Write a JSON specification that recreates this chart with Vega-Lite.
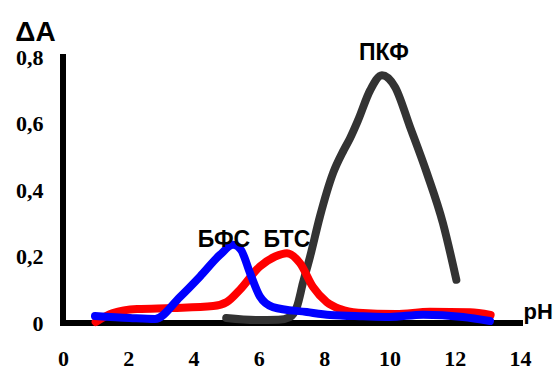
{
  "$schema": "https://vega.github.io/schema/vega-lite/v6.json",
  "width": 457,
  "height": 266,
  "autosize": {"type": "none"},
  "padding": {"left": 63, "top": 57, "right": 39, "bottom": 46},
  "background": "white",
  "config": {
    "view": {"stroke": null},
    "axis": {
      "grid": false,
      "domain": false, "ticks": false,
      "labelFont": "Liberation Serif", "labelFontWeight": "bold", "labelFontSize": 22, "labelColor": "black",
      "labelFlush": false, "titleColor": "black", "titleFont": "Liberation Sans", "titleFontWeight": "bold"
    }
  },
  "datasets": {
    "curves": [
      {"series": "ПКФ", "pH": 5.0, "dA": 0.015},
      {"series": "ПКФ", "pH": 5.9, "dA": 0.009},
      {"series": "ПКФ", "pH": 6.6, "dA": 0.01},
      {"series": "ПКФ", "pH": 6.95, "dA": 0.018},
      {"series": "ПКФ", "pH": 7.17, "dA": 0.05},
      {"series": "ПКФ", "pH": 7.35, "dA": 0.12},
      {"series": "ПКФ", "pH": 7.57, "dA": 0.2},
      {"series": "ПКФ", "pH": 7.87, "dA": 0.32},
      {"series": "ПКФ", "pH": 8.27, "dA": 0.45},
      {"series": "ПКФ", "pH": 8.6, "dA": 0.52},
      {"series": "ПКФ", "pH": 8.79, "dA": 0.555},
      {"series": "ПКФ", "pH": 9.04, "dA": 0.61},
      {"series": "ПКФ", "pH": 9.41, "dA": 0.7},
      {"series": "ПКФ", "pH": 9.77, "dA": 0.745},
      {"series": "ПКФ", "pH": 10.17, "dA": 0.71},
      {"series": "ПКФ", "pH": 10.63, "dA": 0.59},
      {"series": "ПКФ", "pH": 11.15, "dA": 0.45},
      {"series": "ПКФ", "pH": 11.64, "dA": 0.3},
      {"series": "ПКФ", "pH": 12.05, "dA": 0.13},
      {"series": "БТС", "pH": 1.0, "dA": 0.003},
      {"series": "БТС", "pH": 1.53, "dA": 0.03},
      {"series": "БТС", "pH": 2.27, "dA": 0.042},
      {"series": "БТС", "pH": 3.37, "dA": 0.045},
      {"series": "БТС", "pH": 4.6, "dA": 0.051},
      {"series": "БТС", "pH": 5.02, "dA": 0.063},
      {"series": "БТС", "pH": 5.42, "dA": 0.1},
      {"series": "БТС", "pH": 6.03, "dA": 0.17},
      {"series": "БТС", "pH": 6.5, "dA": 0.2},
      {"series": "БТС", "pH": 6.86, "dA": 0.21},
      {"series": "БТС", "pH": 7.26, "dA": 0.18},
      {"series": "БТС", "pH": 7.66, "dA": 0.108},
      {"series": "БТС", "pH": 8.08, "dA": 0.063},
      {"series": "БТС", "pH": 8.49, "dA": 0.042},
      {"series": "БТС", "pH": 9.04, "dA": 0.031},
      {"series": "БТС", "pH": 10.2, "dA": 0.027},
      {"series": "БТС", "pH": 11.24, "dA": 0.034},
      {"series": "БТС", "pH": 12.47, "dA": 0.032},
      {"series": "БТС", "pH": 13.1, "dA": 0.024},
      {"series": "БФС", "pH": 0.98, "dA": 0.021},
      {"series": "БФС", "pH": 2.05, "dA": 0.015},
      {"series": "БФС", "pH": 2.82, "dA": 0.012},
      {"series": "БФС", "pH": 3.58, "dA": 0.078},
      {"series": "БФС", "pH": 4.2, "dA": 0.14},
      {"series": "БФС", "pH": 4.81, "dA": 0.205},
      {"series": "БФС", "pH": 5.21, "dA": 0.235},
      {"series": "БФС", "pH": 5.45, "dA": 0.22},
      {"series": "БФС", "pH": 5.73, "dA": 0.15},
      {"series": "БФС", "pH": 6.03, "dA": 0.08},
      {"series": "БФС", "pH": 6.43, "dA": 0.048},
      {"series": "БФС", "pH": 7.47, "dA": 0.033},
      {"series": "БФС", "pH": 8.18, "dA": 0.024},
      {"series": "БФС", "pH": 9.19, "dA": 0.02},
      {"series": "БФС", "pH": 10.0, "dA": 0.018},
      {"series": "БФС", "pH": 11.03, "dA": 0.025},
      {"series": "БФС", "pH": 12.25, "dA": 0.018},
      {"series": "БФС", "pH": 13.08, "dA": 0.006}
    ],
    "labels": [
      {"text": "БФС", "pH": 4.93, "dA": 0.229},
      {"text": "БТС", "pH": 6.86, "dA": 0.229},
      {"text": "ПКФ", "pH": 9.83, "dA": 0.79}
    ],
    "axislines": [
      {"x1": 0, "x2": 14, "y1": 0, "y2": 0},
      {"x1": 0, "x2": 0, "y1": 0, "y2": 0.8}
    ],
    "xticks": [{"v": 0}, {"v": 2}, {"v": 4}, {"v": 6}, {"v": 8}, {"v": 10}, {"v": 12}, {"v": 14}],
    "yticks": [{"v": 0}, {"v": 0.2}, {"v": 0.4}, {"v": 0.6}, {"v": 0.8}]
  },
  "encoding": {
    "x": {
      "field": "pH", "type": "quantitative",
      "scale": {"domain": [0, 14], "nice": false, "zero": false},
      "axis": {
        "values": [0, 2, 4, 6, 8, 10, 12, 14],
        "labelPadding": 25,
        "title": "pH", "titleFontSize": 22,
        "titleX": 460, "titleY": -5, "titleAlign": "left", "titleBaseline": "alphabetic", "titleAngle": 0
      }
    },
    "y": {
      "field": "dA", "type": "quantitative",
      "scale": {"domain": [0, 0.8], "nice": false, "zero": false},
      "axis": {
        "values": [0, 0.2, 0.4, 0.6, 0.8],
        "labelExpr": "datum.value == 0 ? '0' : replace(format(datum.value, '.1f'), '.', ',')",
        "labelPadding": 20,
        "title": "ΔA", "titleFontSize": 28,
        "titleX": -28, "titleY": -17, "titleAlign": "center", "titleBaseline": "alphabetic", "titleAngle": 0
      }
    }
  },
  "layer": [
    {
      "data": {"name": "axislines"},
      "mark": {"type": "rule", "color": "black", "strokeWidth": 6, "strokeCap": "square", "clip": false},
      "encoding": {
        "x": {"field": "x1", "type": "quantitative"},
        "x2": {"field": "x2"},
        "y": {"field": "y1", "type": "quantitative"},
        "y2": {"field": "y2"}
      }
    },
    {
      "data": {"name": "xticks"},
      "mark": {"type": "rule", "color": "black", "strokeWidth": 6, "strokeCap": "round", "clip": false},
      "encoding": {
        "x": {"field": "v", "type": "quantitative"},
        "y": {"datum": 0, "type": "quantitative"},
        "y2": {"datum": -0.025}
      }
    },
    {
      "data": {"name": "yticks"},
      "mark": {"type": "rule", "color": "black", "strokeWidth": 5, "strokeCap": "round", "clip": false},
      "encoding": {
        "y": {"field": "v", "type": "quantitative"},
        "x": {"datum": 0, "type": "quantitative"},
        "x2": {"datum": -0.25}
      }
    },
    {
      "data": {"name": "curves"},
      "mark": {"type": "line", "interpolate": "monotone", "strokeWidth": 8, "strokeCap": "round", "strokeJoin": "round", "clip": false},
      "encoding": {
        "color": {
          "field": "series", "type": "nominal",
          "scale": {"domain": ["ПКФ", "БТС", "БФС"], "range": ["#333333", "#ff0000", "#0000ff"]},
          "legend": null
        },
        "order": {"field": "pH", "type": "quantitative"}
      }
    },
    {
      "data": {"name": "labels"},
      "mark": {"type": "text", "font": "Liberation Sans", "fontWeight": "bold", "fontSize": 23, "align": "center", "baseline": "alphabetic", "color": "black"},
      "encoding": {
        "text": {"field": "text"}
      }
    }
  ]
}
